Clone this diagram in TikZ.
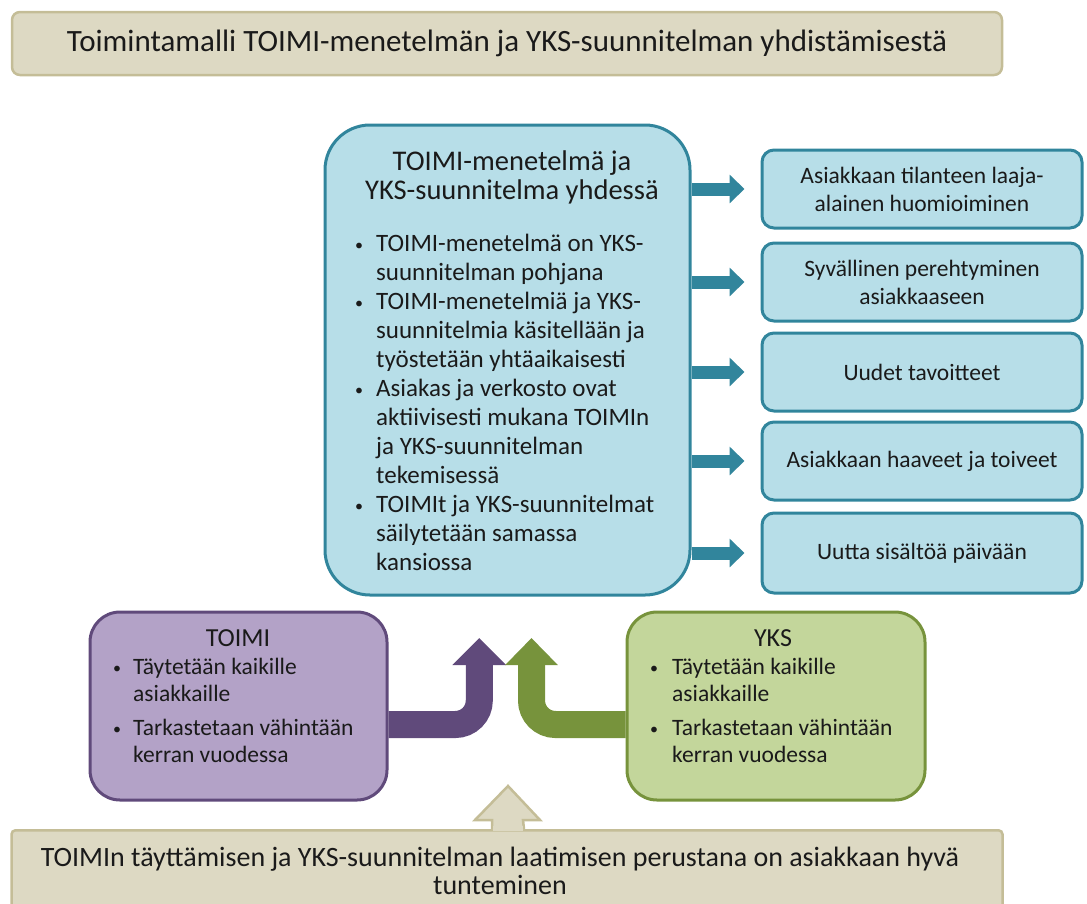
\documentclass[tikz,border=0pt]{standalone}
\usepackage{fontspec}
\setmainfont{Carlito}
\usetikzlibrary{arrows.meta}

\definecolor{tanfill}{HTML}{DDD9C3}
\definecolor{tanline}{HTML}{C4BD97}
\definecolor{tealfill}{HTML}{B7DEE8}
\definecolor{tealline}{HTML}{31859C}
\definecolor{purfill}{HTML}{B3A2C7}
\definecolor{purline}{HTML}{604A7B}
\definecolor{grnfill}{HTML}{C3D69B}
\definecolor{grnline}{HTML}{77933C}
\definecolor{txt}{HTML}{1A1A1A}

% small bullet and bullet paragraph with hanging indent
\newcommand\smallbullet{\raisebox{1.2pt}{\fontsize{16}{16}\selectfont\textbullet}}
\newcommand\bpoint[2][21pt]{\par\noindent\hangindent=#1\hangafter=1\makebox[#1][l]{\smallbullet}#2\par}
% bulleted block of given width
\newcommand\bulletblock[2]{\parbox[t]{#1}{\raggedright #2}}

\tikzset{
  tanbox/.style={draw=tanline, fill=tanfill, line width=2.5pt, text=txt},
  tealbox/.style={draw=tealline, fill=tealfill, line width=3pt, text=txt},
  purbox/.style={draw=purline, fill=purfill, line width=3pt, text=txt},
  grnbox/.style={draw=grnline, fill=grnfill, line width=3pt, text=txt},
  outbox/.style={tealbox, rounded corners=12pt, minimum width=320pt, minimum height=78pt,
    align=center, font=\fontsize{23.5}{28}\selectfont},
  tealarrow/.style={draw=tealline, line width=13pt, -{Triangle[width=28pt,length=15pt]}},
  purarrow/.style={draw=purline, line width=27pt, rounded corners=24pt, -{Triangle[width=52pt,length=27pt]}},
  grnarrow/.style={draw=grnline, line width=27pt, rounded corners=24pt, -{Triangle[width=51pt,length=27pt]}},
  lbl/.style={text=txt, inner sep=0pt},
  listtext/.style={lbl, anchor=north west, font=\fontsize{23.5}{26.5}\selectfont},
}

\begin{document}
\begin{tikzpicture}[x=1pt, y=-1pt]
\useasboundingbox (0,0) rectangle (1087,903);

% heading
\node[tanbox, rounded corners=8pt, minimum width=990pt, minimum height=63pt,
      font=\fontsize{31}{36}\selectfont] (title) at (507,43.5)
  {Toimintamalli TOIMI-menetelmän ja YKS-suunnitelman yhdistämisestä};

% central box
\node[tealbox, rounded corners=45pt, minimum width=365pt, minimum height=470pt] (mid) at (507.5,360) {};
\node[lbl, align=center, font=\fontsize{28.5}{29.5}\selectfont] (midtitle) at (512,177.5)
  {TOIMI-menetelmä ja\\YKS-suunnitelma yhdessä};
\node[listtext, font=\fontsize{25}{29}\selectfont] (midlist) at (355,234) {\bulletblock{320pt}{%
  \bpoint{TOIMI-menetelmä on YKS-\newline suunnitelman pohjana}
  \bpoint{TOIMI-menetelmiä ja YKS-\newline suunnitelmia käsitellään ja\newline työstetään yhtäaikaisesti}
  \bpoint{Asiakas ja verkosto ovat\newline aktiivisesti mukana TOIMIn\newline ja YKS-suunnitelman\newline tekemisessä}
  \bpoint{TOIMIt ja YKS-suunnitelmat\newline säilytetään samassa\newline kansiossa}}};

% outcome boxes
\node[outbox] (r1) at (922,189) {Asiakkaan tilanteen laaja-\\alainen huomioiminen};
\node[outbox] (r2) at (922,282) {Syvällinen perehtyminen\\asiakkaaseen};
\node[outbox] (r3) at (922,372) {Uudet tavoitteet};
\node[outbox] (r4) at (922,461) {Asiakkaan haaveet ja toiveet};
\node[outbox, minimum height=80pt] (r5) at (922,553) {Uutta sisältöä päivään};

\foreach \r in {r1,r2,r3,r4,r5}
  \draw[tealarrow] (mid.east |- \r.west) -- ([xshift=-16pt]\r.west);

% TOIMI and YKS boxes
\node[purbox, rounded corners=30pt, minimum width=297pt, minimum height=188pt] (toimi) at (238.5,706) {};
\node[lbl, font=\fontsize{26}{28}\selectfont] (toimititle) at (238,638) {TOIMI};
\node[listtext] (toimilist) at (113,658) {\bulletblock{260pt}{%
  \bpoint[20pt]{Täytetään kaikille\newline asiakkaille}\vspace{8pt}
  \bpoint[20pt]{Tarkastetaan vähintään\newline kerran vuodessa}}};

\node[grnbox, rounded corners=30pt, minimum width=298pt, minimum height=188pt] (yks) at (776,706) {};
\node[lbl, font=\fontsize{26}{28}\selectfont] (ykstitle) at (773,638) {YKS};
\node[listtext] (ykslist) at (650,658) {\bulletblock{260pt}{%
  \bpoint[22pt]{Täytetään kaikille\newline asiakkaille}\vspace{8pt}
  \bpoint[22pt]{Tarkastetaan vähintään\newline kerran vuodessa}}};

% bent arrows into the central box
\coordinate (ptip) at (479.3,638);
\coordinate (gtip) at (531.5,638);
\draw[purarrow] ([yshift=-18.5pt]toimi.east) -| (ptip);
\draw[grnarrow] ([yshift=-18.5pt]yks.west) -| (gtip);

% foundation box with its upward arrow
\node[tanbox, rounded corners=4pt, minimum width=991pt, minimum height=88pt, anchor=north] (base) at (507,829) {};
\node[lbl, align=center, font=\fontsize{28}{28.5}\selectfont] (basetext) at (500,871)
  {TOIMIn täyttämisen ja YKS-suunnitelman laatimisen perustana on asiakkaan hyvä\\tunteminen};
\coordinate (btip) at (508,786);
\filldraw[tanbox] ([xshift=-15pt]base.north) -- ++(0,-9) -- ++(-17,0) -- (btip)
  -- ([xshift=33pt, yshift=9pt]base.north) -- ++(-17,0) -- ([xshift=17pt]base.north);
\fill[tanfill] ([xshift=-13.7pt, yshift=-2pt]base.north) rectangle ([xshift=15.7pt, yshift=3pt]base.north);
\end{tikzpicture}
\end{document}
